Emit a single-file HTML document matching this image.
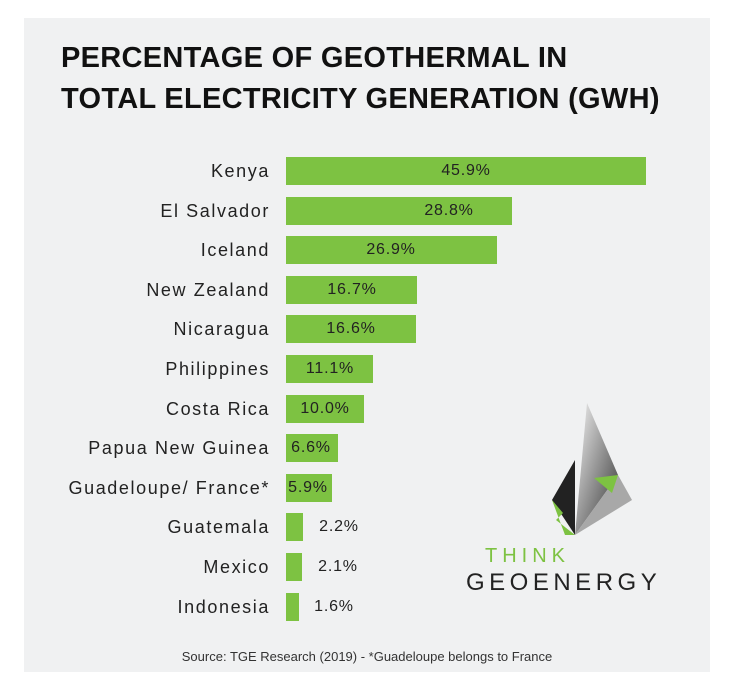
<!DOCTYPE html>
<html><head><meta charset="utf-8"><style>
body{margin:0;width:736px;height:691px;background:#fff;overflow:hidden;font-family:"Liberation Sans",sans-serif}
#p{position:absolute;left:24px;top:18px;width:686px;height:654px;background:#f0f1f2}
.t{position:absolute;left:61px;font-weight:bold;font-size:29px;color:#111;letter-spacing:0.3px}
.l{position:absolute;right:466px;font-size:18px;color:#222;line-height:20px;letter-spacing:1.6px}
.b{position:absolute;left:286px;height:28px;background:#7dc242}
.v{position:absolute;font-size:16px;color:#222;line-height:20px;transform:translateX(-50%);letter-spacing:0.8px}
</style></head><body>
<div id="p"></div>
<div class="t" style="top:42px">PERCENTAGE OF GEOTHERMAL IN</div>
<div class="t" style="top:83px">TOTAL ELECTRICITY GENERATION (GWH)</div>
<div id="rows"></div>
<script>
var d=[["Kenya",45.9,466],["El Salvador",28.8,449],["Iceland",26.9,391],["New Zealand",16.7,352],["Nicaragua",16.6,351],["Philippines",11.1,330],["Costa Rica",10.0,325],["Papua New Guinea",6.6,311],["Guadeloupe/ France*",5.9,308],["Guatemala",2.2,339],["Mexico",2.1,338],["Indonesia",1.6,334]];
var h="";
d.forEach(function(r,i){var c=171+i*39.6;var w=r[1]*7.84;
h+='<div class="l" style="top:'+(c-10)+'px">'+r[0]+'</div>';
h+='<div class="b" style="top:'+(c-14)+'px;width:'+w+'px"></div>';
h+='<div class="v" style="top:'+(c-10)+'px;left:'+r[2]+'px">'+r[1].toFixed(1)+'%</div>';});
document.getElementById("rows").innerHTML=h;
</script>
<svg style="position:absolute;left:0;top:0" width="736" height="691">
<defs><linearGradient id="g" x1="0" y1="0" x2="1" y2="1"><stop offset="0" stop-color="#f4f4f4"/><stop offset="1" stop-color="#333"/></linearGradient></defs>
<polygon points="587,403 618,475 575,535" fill="url(#g)"/>
<polygon points="618,475 632,500 575,535" fill="#a8a8a8"/>
<polygon points="575,460 575,535 552,500" fill="#222"/>
<polygon points="552,500 563,513 556,520 575,535 565,535" fill="#7dc242"/>
<polygon points="594,478 618,475 612,493" fill="#7dc242"/>
<text x="485" y="562" font-size="20" fill="#7dc242" letter-spacing="5" font-family="Liberation Sans">THINK</text>
<text x="466" y="590" font-size="24" fill="#222" letter-spacing="4.5" font-family="Liberation Sans">GEOENERGY</text>
<text x="367" y="661" font-size="13" fill="#333" text-anchor="middle" font-family="Liberation Sans">Source: TGE Research (2019) - *Guadeloupe belongs to France</text>
</svg>
</body></html>
